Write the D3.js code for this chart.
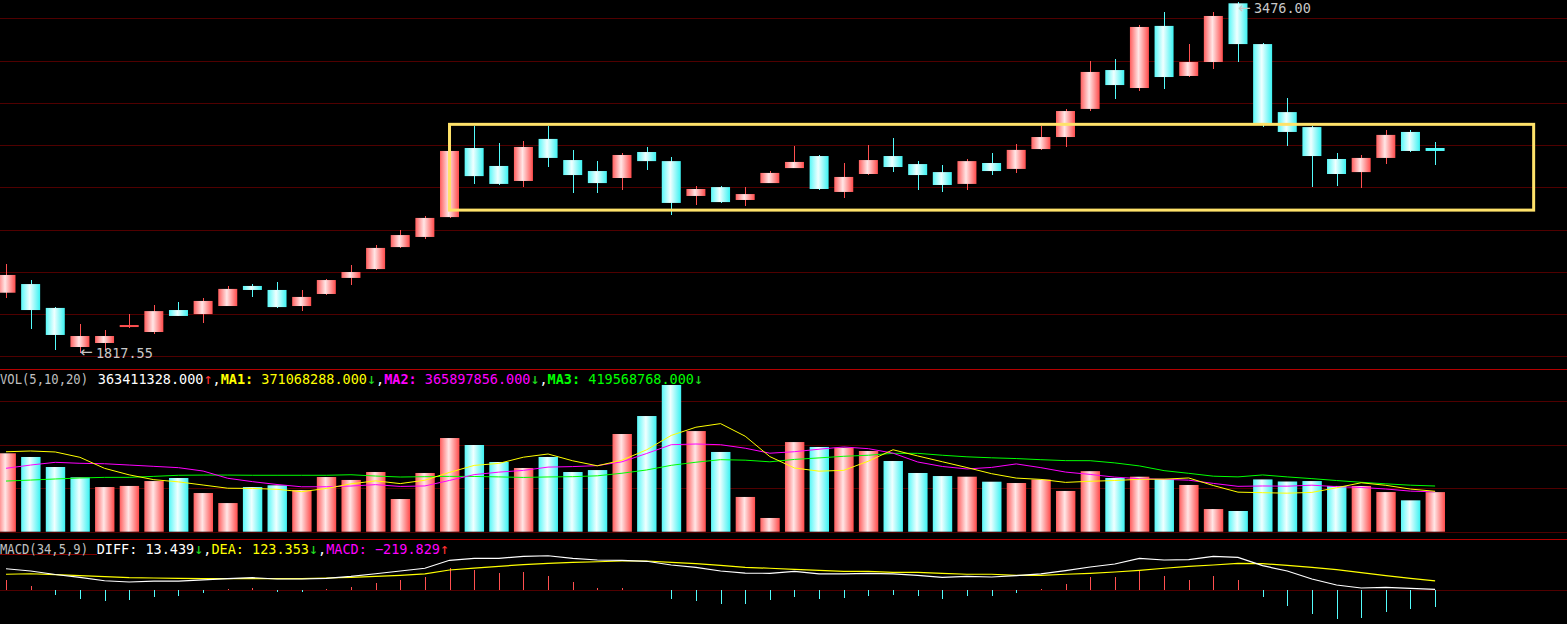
<!DOCTYPE html>
<html><head><meta charset="utf-8">
<script src="https://cdn.jsdelivr.net/npm/d3@7"></script>
<style>html,body{margin:0;padding:0;background:#000;overflow:hidden}</style>
</head><body><svg id="c" width="1567" height="624"></svg>
<script>
// ---------- DATA ----------
const openP  = [2101,2142,2029,1844,1863,1939,1915,2019,2000,2038, 2133,2114,2038,2095,2171,2213,2317,2365,2459,2786,
                2701,2630,2829,2729,2677,2644,2767,2724,2559,2601, 2540,2620,2691,2748,2578,2663,2748,2710,2672,2616,
                2715,2687,2781,2838,2971,3155,3070,3364,3127,3193, 3471,3278,2956,2885,2734,2672,2739,2862,2786];
const highP  = [2237,2161,2033,1953,1924,2000,2043,2057,2076,2133, 2142,2152,2114,2166,2232,2327,2398,2464,2777,2890,
                2810,2819,2890,2777,2724,2762,2791,2743,2606,2606, 2601,2677,2795,2753,2715,2800,2833,2724,2706,2734,
                2762,2805,2890,2971,3198,3207,3368,3430,3278,3430, 3476,3283,3023,2890,2762,2753,2871,2871,2814];
const lowP   = [2077,1929,1830,1817.55,1830,1934,1906,1991,1958,2038, 2081,2029,2014,2092,2138,2209,2315,2355,2455,2616,
                2611,2601,2696,2573,2573,2587,2682,2469,2516,2526, 2511,2618,2689,2587,2549,2658,2672,2587,2578,2587,
                2658,2668,2777,2791,2961,3018,3056,3065,3122,3160, 3193,2885,2796,2601,2606,2597,2710,2767,2706];
const closeP = [2185,2019,1901,1896,1896,1948,2014,1991,2062,2119, 2114,2033,2081,2161,2199,2313,2374,2455,2772,2653,
                2616,2791,2739,2658,2620,2753,2724,2526,2592,2530, 2568,2668,2720,2592,2649,2729,2696,2658,2611,2724,
                2677,2777,2838,2961,3146,3084,3359,3122,3193,3411, 3278,2903,2862,2748,2663,2739,2848,2772,2772];
const volume = [720e6,686e6,594e6,499e6,410e6,420e6,465e6,493e6,355e6,263e6, 410e6,426e6,383e6,502e6,475e6,548e6,300e6,539e6,860e6,796e6,
                640e6,585e6,686e6,548e6,566e6,897e6,1062e6,1347e6,924e6,732e6, 319e6,126e6,823e6,778e6,771e6,741e6,649e6,539e6,511e6,505e6,
                459e6,447e6,479e6,374e6,556e6,493e6,505e6,484e6,429e6,208e6, 190e6,480e6,461e6,465e6,420e6,420e6,364e6,288e6,363411328];
// moving-average values before a full window is available
const ma5Lead  = [734e6,741e6,732e6,683e6];
const ma10Lead = [582e6,612e6,637e6,628e6,624e6,612e6,600e6,588e6,557e6];
const ma20Lead = [465e6,474e6,484e6,493e6,499e6,499e6,508e6,518e6,520e6,520e6,518e6,518e6,518e6,518e6,523e6,511e6,502e6,505e6,508e6];
const diffV = [284,254,208,171,126,109,122,122,136,153, 166,149,149,158,184,218,254,290,395,421,
               421,447,455,421,399,395,382,333,303,254, 225,224,250,215,215,224,215,197,171,184,
               175,192,215,258,307,346,421,399,403,447, 434,324,254,149,70,30,39,26,13.439];
const deaV  = [211,218,207,192,179,166,162,158,153,153, 153,153,153,162,171,184,197,215,267,293,
               316,337,355,368,376,386,386,368,350,329, 303,290,276,263,250,250,237,237,224,211,
               211,197,197,211,224,241,263,290,316,333, 355,350,329,303,271,232,192,158,123.353];
const macdV = [139,57,-62,-114,-141,-128,-88,-75,-36,17, 30,-22,-22,17,43,96,136,175,293,271,
               228,241,188,109,30,30,4,-114,-141,-180, -180,-128,-88,-114,-101,-75,-62,-75,-114,-75,
               -75,-36,17,83,175,175,271,188,136,188, 136,-88,-207,-312,-378,-365,-286,-246,-219.829];
const priceGrid = [1800,2000,2200,2400,2600,2800,3000,3200,3400];
const volGrid = [0,400e6,800e6,1200e6];
const macdGrid = [0];
const volLegendValues = [363411328, 371068288, 365897856, 419568768];
const macdLegendValues = [13.439, 123.353, -219.829];
const boxIdx = [18, 62];
const boxPrice = [2898, 2492];

// ---------- SETUP ----------
const W = 1567, H = 624;
const svg = d3.select('#c');
svg.append('rect').attr('width', W).attr('height', H).attr('fill', '#000');
const defs = svg.append('defs');
function grad(id, stops) {
  const g = defs.append('linearGradient').attr('id', id)
    .attr('x1', '0%').attr('x2', '100%').attr('y1', '0%').attr('y2', '0%');
  stops.forEach(([o, c]) => g.append('stop').attr('offset', o).attr('stop-color', c));
}
grad('gUp', [[0, '#ff5e5e'], [0.45, '#ffe6e6'], [1, '#ff4a4a']]);
grad('gDn', [[0, '#58f8f8'], [0.45, '#f0ffff'], [1, '#3af2f2']]);
const RED = '#ff5050', CYAN = '#54fcfc', GRID = '#500000', SEP = '#b40000';

const n = closeP.length;
const idx = d3.range(n);
const x = d3.scaleLinear().domain([0, n - 1]).range([6, 1435.1]);
const yP = d3.scaleLinear().domain([1800, 3400]).range([356.3, 18.3]);
const yV = d3.scaleLinear().domain([0, 1.2e9]).range([531.7, 401.0]);
const yM = d3.scaleLinear().domain([0, -219.829]).range([590.3, 607]);
const crisp = v => Math.round(v) + 0.5;

// ---------- GRID ----------
const g = svg.append('g').attr('shape-rendering', 'crispEdges');
g.selectAll('.pg').data(priceGrid).join('line')
  .attr('x1', 0).attr('x2', W).attr('y1', d => crisp(yP(d))).attr('y2', d => crisp(yP(d)))
  .attr('stroke', GRID);
g.selectAll('.vg').data(volGrid).join('line')
  .attr('x1', 0).attr('x2', W).attr('y1', d => crisp(yV(d))).attr('y2', d => crisp(yV(d)))
  .attr('stroke', GRID);
g.selectAll('.mg').data(macdGrid).join('line')
  .attr('x1', 0).attr('x2', W).attr('y1', d => crisp(yM(d))).attr('y2', d => crisp(yM(d)))
  .attr('stroke', GRID);
[369, 539].forEach(y => g.append('line').attr('x1', 0).attr('x2', W).attr('y1', y + 0.5).attr('y2', y + 0.5).attr('stroke', SEP));
g.append('line').attr('x1', 0).attr('x2', 97).attr('y1', 554.5).attr('y2', 554.5).attr('stroke', '#800000');

// ---------- CANDLES ----------
const up = i => closeP[i] >= openP[i];
const cg = svg.append('g');
cg.selectAll('.wick').data(idx).join('line')
  .attr('shape-rendering', 'crispEdges')
  .attr('x1', i => crisp(x(i))).attr('x2', i => crisp(x(i)))
  .attr('y1', i => yP(highP[i])).attr('y2', i => yP(lowP[i]))
  .attr('stroke', i => up(i) ? RED : CYAN);
cg.selectAll('.body').data(idx).join('rect')
  .attr('x', i => x(i) - 9.5).attr('width', 19)
  .attr('y', i => yP(Math.max(openP[i], closeP[i])))
  .attr('height', i => Math.max(2, Math.abs(yP(openP[i]) - yP(closeP[i]))))
  .attr('fill', i => Math.abs(yP(openP[i]) - yP(closeP[i])) < 3 ? (up(i) ? RED : CYAN) : (up(i) ? 'url(#gUp)' : 'url(#gDn)'));

// box annotation
svg.append('rect')
  .attr('x', x(boxIdx[0])).attr('y', yP(boxPrice[0]))
  .attr('width', x(boxIdx[1]) - x(boxIdx[0])).attr('height', yP(boxPrice[1]) - yP(boxPrice[0]))
  .attr('fill', 'none').attr('stroke', '#ffe26a').attr('stroke-width', 3);

// high / low labels
const hiI = d3.maxIndex(highP), loI = d3.minIndex(lowP);
function extLabel(i, val, yc) {
  const t = svg.append('g').attr('fill', '#c8c8c8');
  t.append('text').attr('x', x(i)).attr('y', yc).attr('dominant-baseline', 'middle')
    .attr('font-family', 'DejaVu Sans').attr('font-size', 15).text('←');
  t.append('text').attr('x', x(i) + 16).attr('y', yc + 5.2)
    .attr('font-family', 'DejaVu Sans Mono').attr('font-size', 13.5).text(d3.format('.2f')(val));
}
extLabel(hiI, highP[hiI], Math.max(yP(highP[hiI]), 8));
extLabel(loI, lowP[loI], yP(lowP[loI]));

// ---------- VOLUME ----------
const volUp = i => i === 0 ? closeP[i] >= openP[i] : closeP[i] >= closeP[i - 1];
svg.append('g').selectAll('rect').data(idx).join('rect')
  .attr('x', i => x(i) - 9.5).attr('width', 19.4)
  .attr('y', i => yV(volume[i])).attr('height', i => yV(0) - yV(volume[i]))
  .attr('fill', i => volUp(i) ? 'url(#gUp)' : 'url(#gDn)');
function ma(period, lead) {
  return idx.map(i => i < period - 1 ? lead[i] : d3.mean(volume.slice(i - period + 1, i + 1)));
}
const lineV = d3.line().x((d, i) => x(i)).y(d => yV(d));
[[ma(20, ma20Lead), '#00ff00'], [ma(10, ma10Lead), '#ff00ff'], [ma(5, ma5Lead), '#ffff00']].forEach(([s, c]) =>
  svg.append('path').attr('d', lineV(s)).attr('fill', 'none').attr('stroke', c).attr('stroke-width', 1));

// ---------- MACD ----------
svg.append('g').attr('shape-rendering', 'crispEdges').selectAll('line').data(idx).join('line')
  .attr('x1', i => crisp(x(i))).attr('x2', i => crisp(x(i)))
  .attr('y1', yM(0)).attr('y2', i => yM(macdV[i]))
  .attr('stroke', i => macdV[i] >= 0 ? RED : CYAN);
const lineM = d3.line().x((d, i) => x(i)).y(d => yM(d));
svg.append('path').attr('d', lineM(deaV)).attr('fill', 'none').attr('stroke', '#ffff00').attr('stroke-width', 1.2);
svg.append('path').attr('d', lineM(diffV)).attr('fill', 'none').attr('stroke', '#ffffff').attr('stroke-width', 1.2);

// ---------- LEGENDS ----------
const f3 = d3.format('.3f');
// parts: [text, color, opts]  opts: {x, len, bold, arrow}
function legend(y, parts) {
  const t = svg.append('text').attr('y', y).attr('font-family', 'DejaVu Sans Mono').attr('font-size', 13.5)
    .attr('xml:space', 'preserve');
  parts.forEach(([txt, col, o = {}]) => {
    const s = t.append('tspan').attr('fill', col).text(txt);
    if (o.x !== undefined) s.attr('x', o.x);
    if (o.len) s.attr('textLength', o.len).attr('lengthAdjust', 'spacingAndGlyphs');
    if (o.bold) s.attr('font-weight', 'bold');
    if (o.arrow) s.attr('font-size', 15);
  });
}
const GR = '#c0c0c0', WH = '#ffffff', YE = '#ffff00', MG = '#ff00ff', GN = '#00ff00', AR = '#ff3030', AG = '#20e020';
legend(383.5, [
  ['VOL(5,10,20)', GR, {x: 0, len: 88}],
  [f3(volLegendValues[0]), WH, {x: 97.8}], ['↑', AR, {arrow: true}], [',', WH],
  ['MA1:', YE, {bold: true}], [' ' + f3(volLegendValues[1]), YE], ['↓', AG, {arrow: true}], [',', WH],
  ['MA2:', MG, {bold: true}], [' ' + f3(volLegendValues[2]), MG], ['↓', AG, {arrow: true}], [',', WH],
  ['MA3:', GN, {bold: true}], [' ' + f3(volLegendValues[3]), GN], ['↓', AG, {arrow: true}]
]);
legend(553.5, [
  ['MACD(34,5,9)', GR, {x: 0, len: 88}],
  ['DIFF: ' + f3(macdLegendValues[0]), WH, {x: 96.7}], ['↓', AG, {arrow: true}], [',', WH],
  ['DEA: ' + f3(macdLegendValues[1]), YE], ['↓', AG, {arrow: true}], [',', WH],
  ['MACD: ' + f3(macdLegendValues[2]), MG], ['↑', AR, {arrow: true}]
]);
</script></body></html>
